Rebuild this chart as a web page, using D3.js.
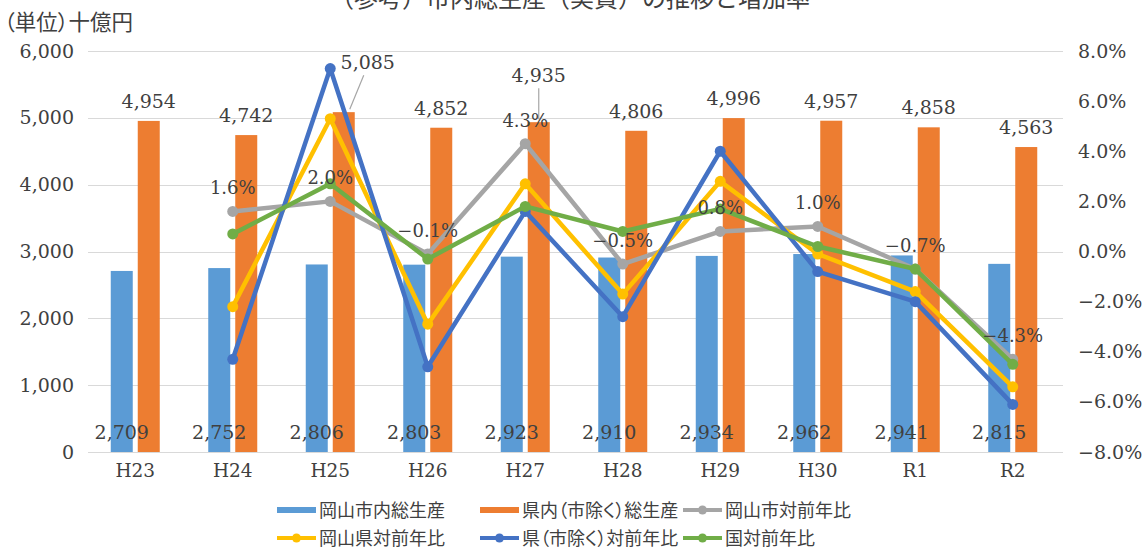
<!DOCTYPE html>
<html>
<head>
<meta charset="utf-8">
<script src="https://cdn.jsdelivr.net/npm/d3@7"></script>
<style>
  html, body { margin: 0; padding: 0; background: #fff; }
  svg { display: block; }
</style>
</head>
<body>
<svg id="chart" width="1145" height="550"></svg>
<script>
// 年度
const categories = ["H23", "H24", "H25", "H26", "H27", "H28", "H29", "H30", "R1", "R2"];
// 総生産（十億円）
const cityGdp = [2709, 2752, 2806, 2803, 2923, 2910, 2934, 2962, 2941, 2815];
const prefExCityGdp = [4954, 4742, 5085, 4852, 4935, 4806, 4996, 4957, 4858, 4563];
// 対前年比（%）
const cityGrowth = [null, 1.6, 2.0, -0.1, 4.3, -0.5, 0.8, 1.0, -0.7, -4.3];
const prefGrowth = [null, -2.2, 5.3, -2.9, 2.7, -1.7, 2.8, -0.1, -1.6, -5.4];
const prefExCityGrowth = [null, -4.3, 7.3, -4.6, 1.6, -2.6, 4.0, -0.8, -2.0, -6.1];
const nationGrowth = [null, 0.7, 2.7, -0.3, 1.8, 0.8, 1.7, 0.2, -0.7, -4.5];
// 目盛
const leftTicks = [0, 1000, 2000, 3000, 4000, 5000, 6000];
const rightTicks = [-8, -6, -4, -2, 0, 2, 4, 6, 8];

const colors = {
  cityBar: "#5b9bd5",
  prefBar: "#ed7d31",
  city: "#a5a5a5",
  pref: "#ffc000",
  prefEx: "#4472c4",
  nation: "#70ad47",
  text: "#404040",
  grid: "#d9d9d9"
};
const numFont = "'DejaVu Serif', serif";
const jpFont = "'Noto Sans CJK JP', 'Noto Sans', sans-serif";

const svg = d3.select("#chart");
const plot = { left: 86.5, right: 1061.5, top: 51, bottom: 452 };

const x = d3.scaleBand().domain(categories).range([plot.left, plot.right]);
const yL = d3.scaleLinear().domain([0, 6000]).range([plot.bottom, plot.top]);
const yR = d3.scaleLinear().domain([-8, 8]).range([plot.bottom, plot.top]);
const cx = c => x(c) + x.bandwidth() / 2;
const barW = 22, barOff = 13.5;

// タイトル・単位
svg.append("text")
  .attr("x", 570).attr("y", 7)
  .attr("text-anchor", "middle")
  .attr("font-family", jpFont).attr("font-size", 24)
  .attr("fill", colors.text)
  .text("（参考）市内総生産（実質）の推移と増加率");
svg.append("text")
  .attr("x", 4).attr("y", 30)
  .attr("font-family", jpFont).attr("font-size", 21.5)
  .style("font-feature-settings", "'palt'")
  .attr("fill", colors.text)
  .text("（単位）十億円");

// 目盛線
svg.append("g").selectAll("line").data(leftTicks).join("line")
  .attr("x1", 88).attr("x2", 1063)
  .attr("y1", d => Math.round(yL(d)) + 0.5).attr("y2", d => Math.round(yL(d)) + 0.5)
  .attr("stroke", colors.grid).attr("stroke-width", 1);

// 左軸
const axisL = svg.append("g").attr("transform", "translate(80,0)")
  .call(d3.axisLeft(yL).tickValues(leftTicks).tickFormat(d3.format(",")).tickSize(0).tickPadding(6));
axisL.select(".domain").remove();
axisL.selectAll("text").attr("font-family", numFont).attr("font-size", 19).attr("fill", colors.text);

// 右軸
const axisR = svg.append("g").attr("transform", "translate(1072,0)")
  .call(d3.axisRight(yR).tickValues(rightTicks).tickFormat(d => d3.format(".1f")(d) + "%").tickSize(0).tickPadding(6));
axisR.select(".domain").remove();
axisR.selectAll("text").attr("font-family", numFont).attr("font-size", 19).attr("fill", colors.text);

// 横軸
const axisX = svg.append("g").attr("transform", `translate(0,${plot.bottom + 8})`)
  .call(d3.axisBottom(x).tickSize(0).tickPadding(4));
axisX.select(".domain").remove();
axisX.selectAll("text").attr("font-family", numFont).attr("font-size", 18.5).attr("fill", colors.text);

// 棒
svg.append("g").selectAll("rect").data(categories).join("rect")
  .attr("x", c => cx(c) - barOff - barW / 2).attr("width", barW)
  .attr("y", (c, i) => yL(cityGdp[i]))
  .attr("height", (c, i) => yL(0) - yL(cityGdp[i]))
  .attr("fill", colors.cityBar);
svg.append("g").selectAll("rect").data(categories).join("rect")
  .attr("x", c => cx(c) + barOff - barW / 2).attr("width", barW)
  .attr("y", (c, i) => yL(prefExCityGdp[i]))
  .attr("height", (c, i) => yL(0) - yL(prefExCityGdp[i]))
  .attr("fill", colors.prefBar);

// 折れ線
const series = [
  { values: cityGrowth, color: colors.city },
  { values: prefGrowth, color: colors.pref },
  { values: prefExCityGrowth, color: colors.prefEx },
  { values: nationGrowth, color: colors.nation }
];
const line = d3.line()
  .defined(d => d.v !== null)
  .x(d => cx(d.c)).y(d => yR(d.v));
series.forEach(s => {
  const pts = categories.map((c, i) => ({ c, v: s.values[i] }));
  const g = svg.append("g");
  g.append("path").datum(pts)
    .attr("d", line).attr("fill", "none")
    .attr("stroke", s.color).attr("stroke-width", 4.5)
    .attr("stroke-linejoin", "round").attr("stroke-linecap", "round");
  g.selectAll("circle").data(pts.filter(d => d.v !== null)).join("circle")
    .attr("cx", d => cx(d.c)).attr("cy", d => yR(d.v))
    .attr("r", 5.5).attr("fill", s.color);
});

// 数値ラベル：市内総生産（棒の下部）
svg.append("g").selectAll("text").data(categories).join("text")
  .attr("x", c => cx(c) - barOff)
  .attr("y", plot.bottom - 13)
  .attr("text-anchor", "middle")
  .attr("font-family", numFont).attr("font-size", 19)
  .attr("fill", colors.text)
  .text((c, i) => d3.format(",")(cityGdp[i]));

// 数値ラベル：県内（市除く）総生産（棒の上）
const shifted = { H25: { dx: 24, dy: -30 }, H27: { dx: 0, dy: -27 } };
const prefLabels = svg.append("g");
categories.forEach((c, i) => {
  const bx = cx(c) + barOff;
  const by = yL(prefExCityGdp[i]);
  const off = shifted[c] || { dx: 0, dy: 0 };
  const tx = bx + off.dx, ty = by - 13 + off.dy;
  if (shifted[c]) {
    prefLabels.append("line")
      .attr("x1", c === "H25" ? tx - 4 : tx).attr("y1", ty + 6)
      .attr("x2", c === "H25" ? bx + 6 : bx).attr("y2", by - 3)
      .attr("stroke", "#a6a6a6").attr("stroke-width", 1.2);
  }
  prefLabels.append("text")
    .attr("x", tx).attr("y", ty)
    .attr("text-anchor", "middle")
    .attr("font-family", numFont).attr("font-size", 19)
    .attr("fill", colors.text)
    .text(d3.format(",")(prefExCityGdp[i]));
});

// 数値ラベル：岡山市対前年比
svg.append("g").selectAll("text").data(categories.filter((c, i) => cityGrowth[i] !== null)).join("text")
  .attr("x", c => cx(c))
  .attr("y", c => yR(cityGrowth[categories.indexOf(c)]) - 17)
  .attr("text-anchor", "middle")
  .attr("font-family", numFont).attr("font-size", 18)
  .attr("fill", colors.text)
  .text(c => d3.format(".1f")(cityGrowth[categories.indexOf(c)]) + "%");

// 凡例
const legendItems = [
  { label: "岡山市内総生産", color: colors.cityBar, type: "bar", x: 277, y: 510 },
  { label: "県内（市除く）総生産", color: colors.prefBar, type: "bar", x: 480, y: 510 },
  { label: "岡山市対前年比", color: colors.city, type: "line", x: 683, y: 510 },
  { label: "岡山県対前年比", color: colors.pref, type: "line", x: 277, y: 538 },
  { label: "県（市除く）対前年比", color: colors.prefEx, type: "line", x: 480, y: 538 },
  { label: "国対前年比", color: colors.nation, type: "line", x: 683, y: 538 }
];
const legend = svg.append("g");
legendItems.forEach(d => {
  if (d.type === "bar") {
    legend.append("rect").attr("x", d.x).attr("y", d.y - 3).attr("width", 39).attr("height", 6).attr("fill", d.color);
  } else {
    legend.append("line").attr("x1", d.x).attr("x2", d.x + 39).attr("y1", d.y).attr("y2", d.y)
      .attr("stroke", d.color).attr("stroke-width", 4);
    legend.append("circle").attr("cx", d.x + 19.5).attr("cy", d.y).attr("r", 4.5).attr("fill", d.color);
  }
  legend.append("text")
    .attr("x", d.x + 42).attr("y", d.y + 6.5)
    .attr("font-family", jpFont).attr("font-size", 18)
    .style("font-feature-settings", "'palt'")
    .attr("fill", colors.text)
    .text(d.label);
});
</script>
</body>
</html>
